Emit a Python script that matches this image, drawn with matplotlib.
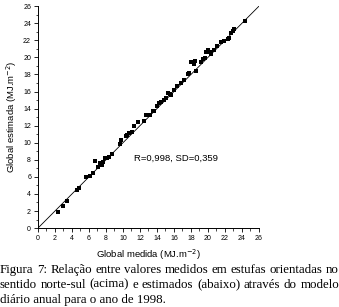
import numpy as np
import matplotlib
matplotlib.use("Agg")
import matplotlib.pyplot as plt
from matplotlib.ticker import MultipleLocator

medida = [2.3, 3.0, 3.4, 4.6, 4.8, 5.6, 6.1, 6.5, 6.75, 7.1, 7.3, 7.5, 7.6, 7.9,
          8.1, 8.3, 8.7, 9.6, 9.8, 10.3, 10.5, 10.7, 11.1, 11.3, 11.75, 12.5,
          12.7, 13.2, 13.5, 13.7, 14.0, 14.2, 14.5, 14.8, 15.1, 15.3, 15.5,
          15.6, 16.0, 16.4, 16.8, 17.2, 17.6, 17.8, 18.0, 18.2, 18.4, 18.5,
          18.6, 19.2, 19.4, 19.6, 19.8, 20.0, 20.2, 20.4, 20.7, 21.1, 21.5,
          21.9, 22.3, 22.5, 22.7, 22.9, 23.1, 24.3]
estimada = [1.9, 2.6, 3.2, 4.5, 4.7, 6.0, 6.1, 6.4, 7.9, 7.2, 7.6, 7.4, 7.8, 8.2,
            8.2, 8.3, 8.7, 9.8, 10.3, 10.8, 10.9, 11.1, 11.3, 12.0, 12.4, 12.5,
            13.2, 13.3, 13.7, 13.7, 14.35, 14.7, 14.75, 15.0, 15.25, 15.8, 15.7,
            15.6, 16.2, 16.7, 17.0, 17.4, 18.0, 18.2, 19.4, 19.4, 19.2, 19.6,
            18.4, 19.4, 19.8, 19.9, 20.6, 20.9, 20.6, 20.4, 20.9, 21.35, 21.75,
            21.9, 22.1, 22.3, 22.9, 23.1, 23.3, 24.3]
reta = [0, 26]
caption = [
    "Figura 7: Relação entre valores medidos em estufas orientadas no",
    "sentido norte-sul (acima) e estimados (abaixo) através do modelo",
    "diário anual para o ano de 1998.",
]

fig = plt.figure(figsize=(3.39, 3.07), dpi=100)
ax = fig.add_axes([0.112, 0.257, 0.652, 0.723])

ax.plot(reta, reta, color="black", lw=0.6)
ax.scatter(medida, estimada, marker="s", s=7, color="black", lw=0, zorder=3)

ax.set_xlim(0, 26)
ax.set_ylim(0, 26)
ax.xaxis.set_major_locator(MultipleLocator(2))
ax.yaxis.set_major_locator(MultipleLocator(2))
ax.xaxis.set_minor_locator(MultipleLocator(1))
ax.yaxis.set_minor_locator(MultipleLocator(1))
ax.spines["top"].set_visible(False)
ax.spines["right"].set_visible(False)
for s in ["left", "bottom"]:
    ax.spines[s].set_linewidth(0.7)
ax.tick_params(which="major", direction="out", length=3, width=0.6,
               labelsize=5, pad=2)
ax.tick_params(which="minor", direction="out", length=1.8, width=0.5)
for lab in ax.get_xticklabels() + ax.get_yticklabels():
    lab.set_family("Liberation Sans")

ax.set_xlabel("Global medida (MJ.m$^{-2}$)", fontsize=6.8,
              family="Liberation Sans", labelpad=4)
ax.set_ylabel("Global estimada (MJ.m$^{-2}$)", fontsize=6.8,
              family="Liberation Sans", labelpad=3)
ax.text(11.3, 8.2, "R=0,998, SD=0,359", fontsize=6.8,
        family="Liberation Sans", va="center")

# justified caption below the plot
fig.canvas.draw()
renderer = fig.canvas.get_renderer()
fs = 9.3
x0, x1 = 0.0, 1.0
ys = [0.112, 0.063, 0.014]
for i, line in enumerate(caption):
    if i == len(caption) - 1:
        fig.text(x0, ys[i], line, fontsize=fs, family="Liberation Serif",
                 va="baseline")
        continue
    words = line.split(" ")
    widths = []
    for w in words:
        t = fig.text(0, 0, w, fontsize=fs, family="Liberation Serif")
        bb = t.get_window_extent(renderer)
        widths.append(bb.width / fig.bbox.width)
        t.remove()
    gap = (x1 - x0 - sum(widths)) / (len(words) - 1)
    x = x0
    for w, wd in zip(words, widths):
        fig.text(x, ys[i], w, fontsize=fs, family="Liberation Serif",
                 va="baseline")
        x += wd + gap

fig.savefig("out.png", dpi=100)
